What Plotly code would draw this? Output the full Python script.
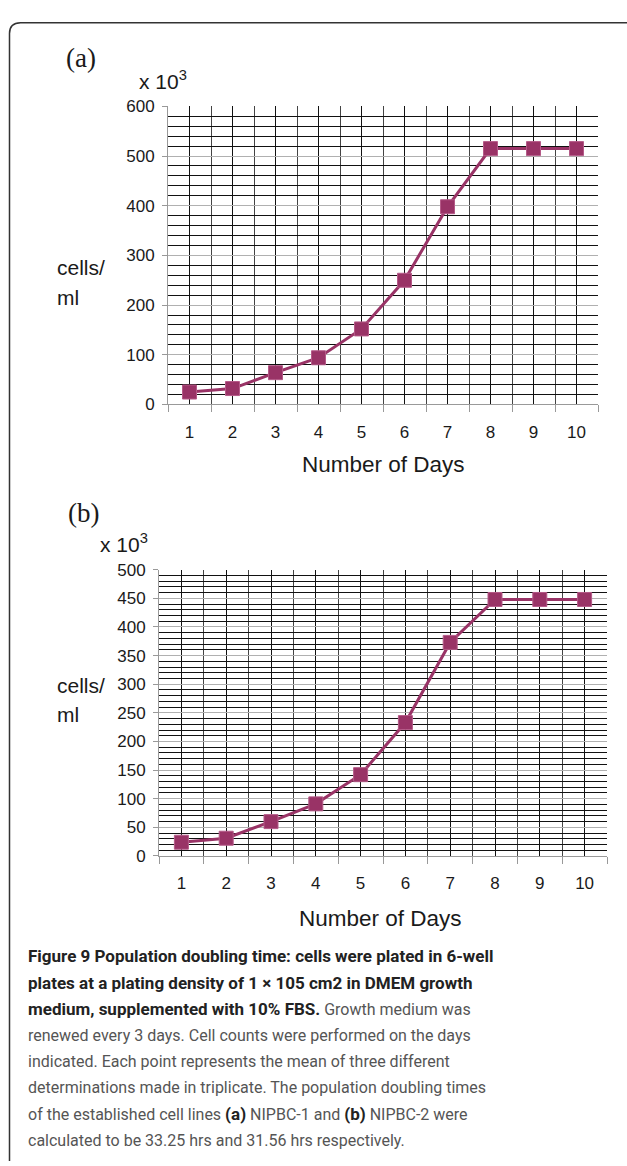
import plotly.graph_objects as go

W, H = 627, 1166

days = [1, 2, 3, 4, 5, 6, 7, 8, 9, 10]
cells_a = [25, 32, 64, 94, 152, 250, 398, 515, 515, 515]
cells_b = [24, 31, 60, 91, 142, 233, 373, 448, 448, 448]
day_labels = [str(d) for d in days]

B = '<span style="font-size:17px;color:#222"><b>'
E = '</b></span>'
caption_lines = [
    B + "Figure 9 Population doubling time: cells were plated in 6-well" + E,
    B + "plates at a plating density of 1 × 105 cm2 in DMEM growth" + E,
    B + "medium, supplemented with 10% FBS." + E + " Growth medium was",
    "renewed every 3 days. Cell counts were performed on the days",
    "indicated. Each point represents the mean of three different",
    "determinations made in triplicate. The population doubling times",
    "of the established cell lines " + B + "(a)" + E + " NIPBC-1 and " + B + "(b)" + E + " NIPBC-2 were",
    "calculated to be 33.25 hrs and 31.56 hrs respectively.",
]

def px(x):
    return x / W

def py(y):
    return 1 - y / H

COLOR = "#993366"
FONT = "Liberation Sans, Arial, sans-serif"

fig = go.Figure()
for xa, ya, vals in (("x", "y", cells_a), ("x2", "y2", cells_b)):
    fig.add_trace(go.Scatter(x=days, y=vals, mode="lines+markers", xaxis=xa, yaxis=ya,
                             line=dict(color=COLOR, width=3),
                             marker=dict(symbol="square", size=14, color=COLOR,
                                         line=dict(color="#b55a88", width=1)),
                             showlegend=False, hoverinfo="skip"))

def xaxis_cfg(x0, x1, anchor):
    return dict(domain=[px(x0), px(x1)], range=[0.5, 10.5], anchor=anchor, tickmode="array",
                tickvals=days, ticktext=day_labels, showgrid=True, gridcolor="#111",
                gridwidth=1, ticks="", zeroline=False, showline=True, linecolor="#999",
                linewidth=1, tickfont=dict(family=FONT, size=17, color="#1a1a1a"),
                ticklabelstandoff=12, fixedrange=True,
                minor=dict(tickmode="array", tickvals=[d - 0.5 for d in days] + [10.5],
                           showgrid=True, gridcolor="#444", gridwidth=1,
                           ticks="outside", ticklen=7, tickcolor="#999"))

def yaxis_cfg(y0, y1, top, major, minor, anchor):
    return dict(domain=[py(y0), py(y1)], range=[0, top], anchor=anchor, dtick=major, tick0=0,
                showgrid=True, gridcolor="#b0b0b0", gridwidth=1, ticks="outside",
                ticklen=5, tickcolor="#999", zeroline=False, showline=True,
                linecolor="#999", linewidth=1, ticklabelstandoff=4,
                tickfont=dict(family=FONT, size=17, color="#1a1a1a"), fixedrange=True,
                minor=dict(dtick=minor, tick0=0, showgrid=True, gridcolor="#111",
                           gridwidth=1))

fig.update_layout(
    width=W, height=H, margin=dict(l=0, r=0, t=0, b=0),
    paper_bgcolor="white", plot_bgcolor="white",
    xaxis=xaxis_cfg(168, 598, "y"), yaxis=yaxis_cfg(402, 99, 600, 100, 20, "x"),
    xaxis2=xaxis_cfg(159, 607, "y2"), yaxis2=yaxis_cfg(861, 570, 500, 50, 10, "x2"),
)

ann = []
def text(x, y, s, size, family=FONT, xanchor="left", color="#1a1a1a"):
    ann.append(dict(x=px(x), y=py(y), xref="paper", yref="paper", text=s, showarrow=False,
                    xanchor=xanchor, yanchor="middle",
                    font=dict(family=family, size=size, color=color)))

serif = "Liberation Serif, Times New Roman, serif"
# panel a
text(64, 50, "(a)", 27, serif)
text(137, 72, "x 10<sup>3</sup>", 21)
text(55, 263, "cells/", 21)
text(55, 293, "ml", 21)
text(383, 463, "Number of Days", 22.5, xanchor="center")
# panel b
text(66, 512, "(b)", 27, serif)
text(98, 543, "x 10<sup>3</sup>", 21)
text(55, 688, "cells/", 21)
text(55, 717, "ml", 21)
text(381, 925, "Number of Days", 22.5, xanchor="center")

cap_font = "Roboto, sans-serif"
y0 = 963
for i, line in enumerate(caption_lines):
    text(26, y0 + i * 26.7, line, 16, cap_font, color="#555")

fig.update_layout(annotations=ann)

# rounded frame
r = 11
x0, yt = 9.5, 14
path = (f"M {px(x0)},{py(H + 5)} L {px(x0)},{py(yt + r)} "
        f"Q {px(x0)},{py(yt)} {px(x0 + r)},{py(yt)} L {px(W + 5)},{py(yt)}")
fig.add_shape(type="path", path=path, xref="paper", yref="paper",
              line=dict(color="#333", width=1.5))

fig.write_html("out.html", config={"displayModeBar": False, "staticPlot": True},
               post_script="document.body.style.margin='0';document.body.style.overflow='hidden';")
